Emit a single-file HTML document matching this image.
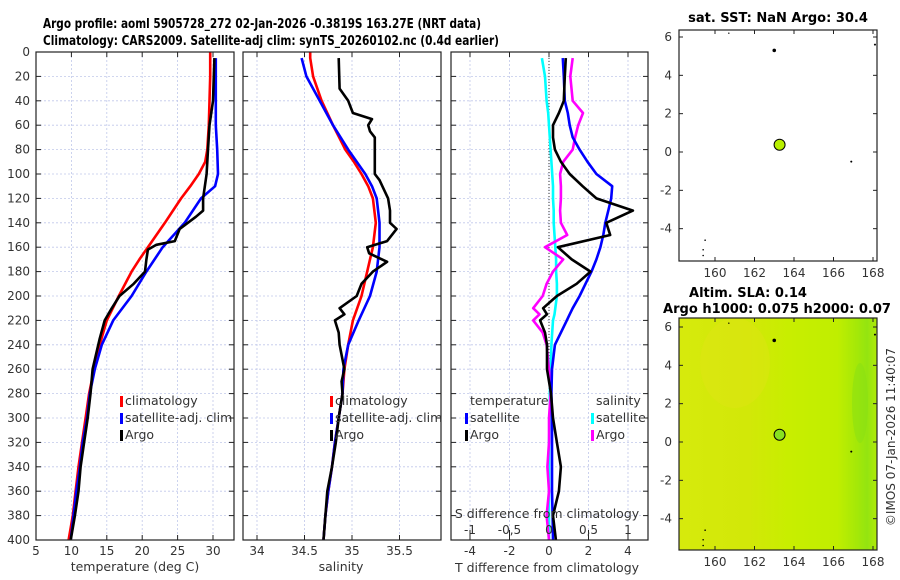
<!DOCTYPE html>
<html><head><meta charset="utf-8"><style>
body{margin:0;background:#fff}
svg{display:block;font-family:"DejaVu Sans","Liberation Sans",sans-serif}
</style></head><body>
<svg id="c" width="900" height="580" viewBox="0 0 900 580"></svg>
<script>
// ---- data ----
const depthT = [0,5,20,40,60,80,90,100,110,120,140,160,170,180,200,220,240,260,280,300,320,340,360,380,400];
const tempClim = [29.6,29.6,29.6,29.5,29.4,29.2,28.9,28.0,26.8,25.5,23.2,20.8,19.6,18.5,16.7,15.0,14.0,13.2,12.5,12.0,11.5,11.0,10.6,10.2,9.6];
const depthTS = [5,20,40,60,80,100,110,120,140,160,180,200,220,240,260,280,300,320,340,360,380,400];
const tempSat = [30.4,30.4,30.4,30.4,30.6,30.7,30.3,28.3,26.0,22.9,20.6,18.5,15.9,14.3,13.3,12.6,12.2,11.6,11.2,10.7,10.3,9.9];
const depthA = [5,40,60,80,100,120,130,135,145,155,158,162,170,180,190,200,210,220,235,260,280,300,320,340,360,380,400];
const tempArgo = [30.2,30.0,29.5,29.3,29.1,28.6,28.6,27.6,25.3,24.6,22.0,20.8,20.6,20.4,18.8,16.8,15.7,14.7,14.0,13.0,12.7,12.3,11.8,11.3,11.0,10.5,9.9];
const salClim = [34.56,34.56,34.59,34.68,34.80,34.93,35.02,35.10,35.17,35.22,35.25,35.22,35.19,35.16,35.10,35.01,34.96,34.92,34.90,34.86,34.82,34.79,34.75,34.72,34.70];
const salSat = [34.47,34.52,34.66,34.80,34.96,35.14,35.21,35.26,35.29,35.29,35.26,35.19,35.07,34.96,34.91,34.90,34.86,34.82,34.79,34.75,34.72,34.70];
const depthSA = [5,30,40,50,55,60,65,70,100,105,120,130,140,145,155,160,165,172,180,190,200,210,215,220,230,240,260,270,280,300,320,340,360,380,400];
const salArgo = [34.86,34.87,34.96,35.01,35.21,35.17,35.19,35.24,35.24,35.29,35.38,35.40,35.40,35.47,35.37,35.16,35.18,35.37,35.22,35.10,35.05,34.87,34.92,34.82,34.86,34.87,34.92,34.89,34.90,34.86,34.83,34.79,34.74,34.72,34.70];
const depthD = [5,20,40,50,60,70,80,90,100,110,120,130,140,150,160,170,180,190,200,210,215,220,230,240,260,280,300,320,340,360,380,400];
const sDiffSat = [-0.09,-0.05,-0.03,-0.01,0.0,0.01,0.02,0.03,0.04,0.05,0.05,0.06,0.06,0.07,0.08,0.09,0.09,0.1,0.1,0.08,0.07,0.05,0.04,0.03,0.02,0.01,0.01,0.0,0.0,0.0,0.0,0.0];
const sDiffArgo = [0.3,0.27,0.3,0.43,0.37,0.33,0.3,0.18,0.14,0.15,0.15,0.14,0.15,0.23,-0.05,0.18,0.05,-0.03,-0.08,-0.2,-0.12,-0.2,-0.08,-0.03,0.0,0.02,0.0,0.0,-0.02,0.0,-0.03,0.0];
const tDiffArgo = [0.85,0.8,0.75,0.5,0.2,0.2,0.3,0.6,1.05,1.7,2.4,4.25,2.9,3.1,0.45,1.15,2.1,1.4,0.4,-0.3,-0.1,-0.45,-0.2,-0.1,-0.1,0.1,0.2,0.4,0.6,0.5,0.2,0.35];
const tDiffSat = [0.7,0.75,0.8,0.95,1.05,1.2,1.55,1.95,2.4,3.2,3.15,3.0,2.85,2.75,2.6,2.4,2.15,1.85,1.55,1.2,1.05,0.9,0.6,0.3,0.15,0.12,0.15,0.15,0.15,0.15,0.18,0.2];
const depthTicks = [0,20,40,60,80,100,120,140,160,180,200,220,240,260,280,300,320,340,360,380,400];
const tempTicks = [5,10,15,20,25,30];
const salTicks = [34,34.5,35,35.5];
const tdTicks = [-4,-2,0,2,4];
const sdTicks = [-1,-0.5,0,0.5,1];
const lonTicks = [160,162,164,166,168];
const latTicks = [6,4,2,0,-2,-4];
const argoPos = [163.27,0.38];

// ---- helpers ----
const svg = document.getElementById('c');
const NS = 'http://www.w3.org/2000/svg';
function el(tag, attrs, parent){const e=document.createElementNS(NS,tag);for(const k in attrs)e.setAttribute(k,attrs[k]);(parent||svg).appendChild(e);return e;}
function txt(x,y,s,attrs,parent){const t=el('text',Object.assign({x:x,y:y,'font-size':12,fill:'#333'},attrs||{}),parent);t.textContent=s;return t;}
const Y0=52,Y1=540;
const yD = d => Y0 + d*(Y1-Y0)/400;
function lin(d0,d1,p0,p1){return v=>p0+(v-d0)*(p1-p0)/(d1-d0);}
const xT = lin(5,30,36,213);
const xS = lin(34,35.5,257,399.5);
const xTD = lin(-4,4,470,628);
const xSD = lin(-1,1,470,628);
const xLon = lin(160,168,715,873);
const yLat1 = lin(0,6,152,37);
const yLat2 = lin(0,6,442,327);

function frame(name){
  const g=el('g',{});
  
  
  return g;
}
function grid(g,x0,x1,xs){
  depthTicks.forEach(d=>{el('line',{x1:x0,x2:x1,y1:yD(d),y2:yD(d),stroke:'#c0c8ea','stroke-width':0.8,'stroke-dasharray':'2,2'},g);
    el('line',{x1:x0,x2:x0+5,y1:yD(d),y2:yD(d),stroke:'#222'},g);el('line',{x1:x1-5,x2:x1,y1:yD(d),y2:yD(d),stroke:'#222'},g);});
  xs.forEach(x=>{el('line',{x1:x,x2:x,y1:Y0,y2:Y1,stroke:'#c0c8ea','stroke-width':0.8,'stroke-dasharray':'2,2'},g);
    el('line',{x1:x,x2:x,y1:Y1-5,y2:Y1,stroke:'#222'},g);el('line',{x1:x,x2:x,y1:Y0,y2:Y0+5,stroke:'#222'},g);});
}
function box(g,x0,x1){el('rect',{x:x0,y:Y0,width:x1-x0,height:Y1-Y0,fill:'none',stroke:'#222','stroke-width':1.2},g);}
function line(g,xs,ys,fx,color,name){
  const pts=xs.map((v,i)=>fx(v).toFixed(1)+','+yD(ys[i]).toFixed(1)).join(' ');
  const p=el('polyline',{points:pts,fill:'none',stroke:color,'stroke-width':2.6,'stroke-linejoin':'round'},g);
  
  
}
function legend(g,x,y,color,label,name){
  const r=el('rect',{x:x,y:y-9,width:3,height:11,fill:color},g);
  
  
  const t=txt(x+5,y,label,{'font-size':12.5},g);
  
  
}

// title
const t1=txt(262,28,'Argo profile: aoml 5905728_272 02-Jan-2026 -0.3819S 163.27E (NRT data)',{'font-weight':'bold','font-size':13.5,'text-anchor':'middle',textLength:438,lengthAdjust:'spacingAndGlyphs',fill:'#000'});


const t2=txt(271,45,'Climatology: CARS2009. Satellite-adj clim: synTS_20260102.nc (0.4d earlier)',{'font-weight':'bold','font-size':13.5,'text-anchor':'middle',textLength:456,lengthAdjust:'spacingAndGlyphs',fill:'#000'});



// ---- panel 1 temperature ----
const g1=frame('temperature-panel');
grid(g1,36,234,tempTicks.map(xT));
line(g1,tempClim,depthT,xT,'#ff0000','temp-climatology-line');
line(g1,tempSat,depthTS,xT,'#0000ff','temp-satellite-line');
line(g1,tempArgo,depthA,xT,'#000','temp-argo-line');
box(g1,36,234);
depthTicks.forEach(d=>{txt(30,yD(d)+4,String(d),{'text-anchor':'end'},g1);});
tempTicks.forEach(v=>{txt(xT(v),555,String(v),{'text-anchor':'middle'},g1);});
const xl1=txt(135,571,'temperature (deg C)',{'text-anchor':'middle','font-size':12.5},g1);

legend(g1,120,405,'#ff0000','climatology','legend-climatology');
legend(g1,120,422,'#0000ff','satellite-adj. clim','legend-satellite');
legend(g1,120,439,'#000','Argo','legend-argo');

// ---- panel 2 salinity ----
const g2=frame('salinity-panel');
grid(g2,243,441,salTicks.map(xS));
line(g2,salClim,depthT,xS,'#ff0000','sal-climatology-line');
line(g2,salSat,depthTS,xS,'#0000ff','sal-satellite-line');
line(g2,salArgo,depthSA,xS,'#000','sal-argo-line');
box(g2,243,441);
salTicks.forEach(v=>{txt(xS(v),555,String(v),{'text-anchor':'middle'},g2);});
const xl2=txt(341,571,'salinity',{'text-anchor':'middle','font-size':12.5},g2);

legend(g2,330,405,'#ff0000','climatology','legend-sal-climatology');
legend(g2,330,422,'#0000ff','satellite-adj. clim','legend-sal-satellite');
legend(g2,330,439,'#000','Argo','legend-sal-argo');

// ---- panel 3 differences ----
const g3=frame('difference-panel');
grid(g3,451,648,tdTicks.map(xTD));
el('line',{x1:xTD(0),x2:xTD(0),y1:Y0,y2:Y1,stroke:'#333','stroke-width':1,'stroke-dasharray':'1,2'},g3);
sdTicks.forEach(v=>{el('line',{x1:xSD(v),x2:xSD(v),y1:Y1-10,y2:Y1-5,stroke:'#222'},g3);});
line(g3,sDiffSat,depthD,xSD,'#00ffff','sal-diff-satellite-line');
line(g3,sDiffArgo,depthD,xSD,'#ff00ff','sal-diff-argo-line');
line(g3,tDiffSat,depthD,xTD,'#0000ff','temp-diff-satellite-line');
line(g3,tDiffArgo,depthD,xTD,'#000','temp-diff-argo-line');
box(g3,451,648);
tdTicks.forEach(v=>{txt(xTD(v),555,String(v),{'text-anchor':'middle'},g3);});
sdTicks.forEach(v=>{txt(xSD(v),534,String(v).replace('.',','),{'text-anchor':'middle'},g3);});
const sd=txt(547,518,'S difference from climatology',{'text-anchor':'middle','font-size':12.5},g3);

const td=txt(547,572,'T difference from climatology',{'text-anchor':'middle','font-size':12.5},g3);

txt(470,405,'temperature',{'font-size':12.5},g3);
txt(596,405,'salinity',{'font-size':12.5},g3);
legend(g3,465,422,'#0000ff','satellite','legend-tdiff-satellite');
legend(g3,465,439,'#000','Argo','legend-tdiff-argo');
legend(g3,591,422,'#00ffff','satellite','legend-sdiff-satellite');
legend(g3,591,439,'#ff00ff','Argo','legend-sdiff-argo');

// ---- maps ----
function map(y0,y1,yLat,name,filled){
  const g=el('g',{});
  
  
  if(filled){
    const defs=el('defs',{},g);
    const lg=el('linearGradient',{id:'slag',x1:0,y1:0,x2:1,y2:0},defs);
    [['0','#d6ea0c'],['0.35','#d2e808'],['0.55','#c8ee00'],['0.8','#c0ee00'],['0.9','#a4e808'],['0.95','#94e410'],['1','#b0ea08']].forEach(s=>el('stop',{offset:s[0],'stop-color':s[1]},lg));
    el('rect',{x:679,y:y0,width:198,height:y1-y0,fill:'url(#slag)'},g);
    el('ellipse',{cx:735,cy:y0+45,rx:35,ry:45,fill:'#e2e416',opacity:0.4},g);
    el('ellipse',{cx:860,cy:y0+85,rx:8,ry:40,fill:'#88e014',opacity:0.5},g);
  }
  lonTicks.forEach(v=>{el('line',{x1:xLon(v),x2:xLon(v),y1:y1-4,y2:y1,stroke:'#222'},g);el('line',{x1:xLon(v),x2:xLon(v),y1:y0,y2:y0+4,stroke:'#222'},g);
    txt(xLon(v),y1+16,String(v),{'text-anchor':'middle'},g);});
  latTicks.forEach(v=>{el('line',{x1:679,x2:683,y1:yLat(v),y2:yLat(v),stroke:'#222'},g);el('line',{x1:873,x2:877,y1:yLat(v),y2:yLat(v),stroke:'#222'},g);
    txt(672,yLat(v)+4,String(v),{'text-anchor':'end'},g);});
  [[163,5.3,1.8],[168.1,5.6,1],[166.9,-0.5,1],[159.5,-4.6,0.8],[159.4,-5.1,0.8],[159.4,-5.4,0.8],[160.7,6.2,0.7]].forEach(p=>el('circle',{cx:xLon(p[0]),cy:yLat(p[1]),r:p[2],fill:'#000'},g));
  const dot=el('circle',{cx:xLon(argoPos[0]),cy:yLat(argoPos[1]),r:5.5,fill:filled?'#88e020':'#b8f000',stroke:'#000','stroke-width':1},g);
  
  
  el('rect',{x:679,y:y0,width:198,height:y1-y0,fill:'none',stroke:'#222','stroke-width':1.2},g);
  return g;
}
map(30,261,yLat1,'sst-map',false);
map(318,550,yLat2,'sla-map',true);
const m1=txt(778,22,'sat. SST: NaN Argo: 30.4',{'font-weight':'bold','font-size':13,'text-anchor':'middle',fill:'#000'});

const m2=txt(748,297,'Altim. SLA: 0.14',{'font-weight':'bold','font-size':13,'text-anchor':'middle',fill:'#000'});

const m3=txt(777,313,'Argo h1000: 0.075 h2000: 0.07',{'font-weight':'bold','font-size':13,'text-anchor':'middle',fill:'#000',textLength:228,lengthAdjust:'spacingAndGlyphs'});

const cr=txt(0,0,'©IMOS 07-Jan-2026 11:40:07',{'font-size':12,'text-anchor':'middle',transform:'translate(895,437) rotate(-90)'});


</script>
</body></html>
